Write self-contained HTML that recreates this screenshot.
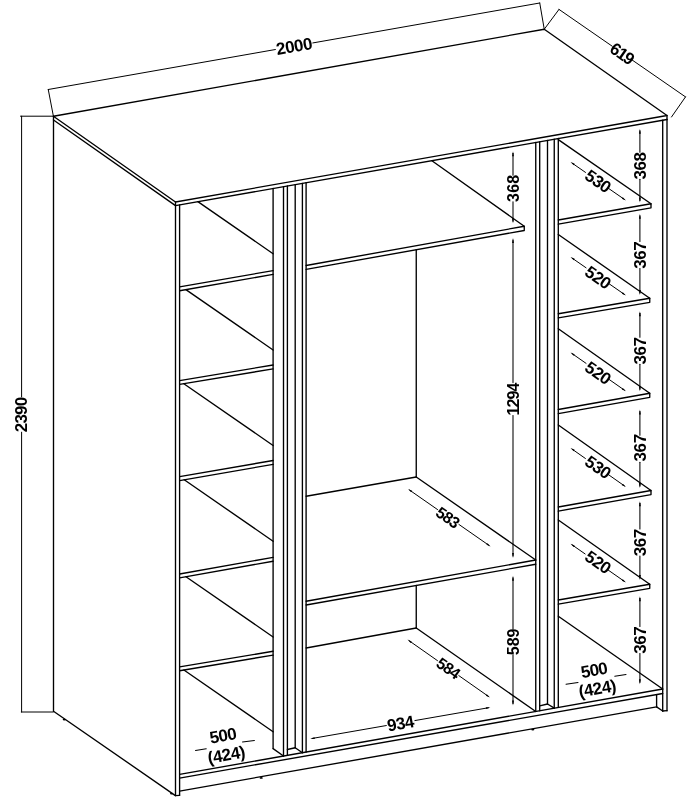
<!DOCTYPE html>
<html><head><meta charset="utf-8"><title>Wardrobe</title>
<style>
html,body{margin:0;padding:0;background:#fff;}
body{width:688px;height:803px;overflow:hidden;font-family:"Liberation Sans",sans-serif;}
svg{display:block;will-change:transform}
.m{stroke:#000;stroke-width:1.35;fill:none;stroke-linecap:round;stroke-linejoin:round}
.d{stroke:#000;stroke-width:1.0;fill:none;stroke-linecap:round}
.u{stroke:#000;stroke-width:1.0;fill:none;stroke-linecap:round}
.t{stroke:#000;stroke-width:1.05;fill:none;stroke-linecap:round}
text{font-family:"Liberation Sans",sans-serif;fill:#000;font-weight:bold;text-anchor:middle}
</style></head><body>
<svg width="688" height="803" viewBox="0 0 688 803">
<rect width="688" height="803" fill="#fff"/>
<polygon class="m" points="53.4,116.25 544.25,29.25 667.0,115.5 175.5,202.0"/>
<polyline class="m" points="53.50,120.00 175.50,205.60 667.00,119.50"/>
<line class="m" x1="175.50" y1="202.00" x2="175.50" y2="205.60"/>
<line class="m" x1="667.00" y1="115.50" x2="667.00" y2="119.50"/>
<line class="m" x1="53.50" y1="116.25" x2="53.50" y2="711.20"/>
<line class="m" x1="53.50" y1="711.20" x2="175.40" y2="795.60"/>
<line class="m" x1="175.50" y1="205.60" x2="175.50" y2="795.60"/>
<line class="m" x1="179.60" y1="204.88" x2="179.60" y2="795.30"/>
<line class="m" x1="175.50" y1="795.60" x2="179.60" y2="795.30"/>
<line class="m" x1="662.70" y1="120.25" x2="662.70" y2="711.00"/>
<line class="m" x1="667.00" y1="119.50" x2="667.00" y2="710.70"/>
<line class="m" x1="662.70" y1="711.00" x2="667.00" y2="710.70"/>
<line class="m" x1="656.60" y1="694.85" x2="656.60" y2="706.90"/>
<line class="m" x1="656.60" y1="706.90" x2="662.70" y2="711.00"/>
<line class="m" x1="179.60" y1="774.41" x2="662.70" y2="688.98"/>
<line class="m" x1="179.60" y1="778.06" x2="662.70" y2="693.48"/>
<line class="m" x1="179.60" y1="791.06" x2="656.60" y2="706.90"/>
<line class="m" x1="273.10" y1="188.50" x2="273.10" y2="748.60"/>
<line class="m" x1="283.50" y1="186.68" x2="283.50" y2="756.04"/>
<line class="m" x1="287.40" y1="186.00" x2="287.40" y2="755.35"/>
<line class="m" x1="295.20" y1="184.63" x2="295.20" y2="747.75"/>
<line class="m" x1="302.40" y1="183.37" x2="302.40" y2="752.69"/>
<line class="m" x1="306.10" y1="182.72" x2="306.10" y2="752.04"/>
<line class="m" x1="273.10" y1="748.60" x2="283.50" y2="756.04"/>
<line class="m" x1="295.20" y1="747.75" x2="302.40" y2="752.69"/>
<line class="m" x1="287.40" y1="749.50" x2="295.20" y2="747.75"/>
<line class="m" x1="535.75" y1="142.49" x2="535.75" y2="711.43"/>
<line class="m" x1="539.70" y1="141.80" x2="539.70" y2="710.73"/>
<line class="m" x1="547.50" y1="140.43" x2="547.50" y2="704.00"/>
<line class="m" x1="554.25" y1="139.25" x2="554.25" y2="708.16"/>
<line class="m" x1="558.30" y1="138.54" x2="558.30" y2="707.44"/>
<line class="m" x1="547.50" y1="704.00" x2="554.25" y2="708.16"/>
<line class="m" x1="539.70" y1="705.80" x2="547.50" y2="704.00"/>
<line class="m" x1="179.60" y1="286.90" x2="273.10" y2="270.60"/>
<line class="m" x1="179.60" y1="290.75" x2="273.10" y2="274.45"/>
<line class="m" x1="179.60" y1="380.60" x2="273.10" y2="365.00"/>
<line class="m" x1="179.60" y1="384.45" x2="273.10" y2="368.85"/>
<line class="m" x1="179.60" y1="476.70" x2="273.10" y2="460.50"/>
<line class="m" x1="179.60" y1="480.55" x2="273.10" y2="464.35"/>
<line class="m" x1="179.60" y1="574.00" x2="273.10" y2="557.40"/>
<line class="m" x1="179.60" y1="577.85" x2="273.10" y2="561.25"/>
<line class="m" x1="179.60" y1="666.90" x2="273.10" y2="651.25"/>
<line class="m" x1="179.60" y1="670.75" x2="273.10" y2="655.10"/>
<line class="m" x1="197.86" y1="201.68" x2="273.10" y2="253.75"/>
<line class="m" x1="185.89" y1="289.65" x2="273.10" y2="350.00"/>
<line class="m" x1="183.85" y1="383.74" x2="273.10" y2="445.50"/>
<line class="m" x1="184.23" y1="479.75" x2="273.10" y2="541.25"/>
<line class="m" x1="185.98" y1="576.72" x2="273.10" y2="637.00"/>
<line class="m" x1="183.91" y1="670.03" x2="273.10" y2="731.75"/>
<polyline class="m" points="558.30,220.00 651.00,203.75 651.00,207.85 558.30,224.10"/>
<polyline class="m" points="558.30,313.75 649.75,298.25 649.75,302.35 558.30,317.85"/>
<polyline class="m" points="558.30,409.50 649.75,393.25 649.75,397.35 558.30,413.60"/>
<polyline class="m" points="558.30,507.00 651.00,490.50 651.00,494.60 558.30,511.10"/>
<polyline class="m" points="558.30,600.00 649.75,584.25 649.75,588.35 558.30,604.10"/>
<line class="m" x1="558.30" y1="139.60" x2="651.00" y2="203.75"/>
<line class="m" x1="558.30" y1="234.50" x2="649.75" y2="298.25"/>
<line class="m" x1="558.30" y1="328.75" x2="649.75" y2="393.25"/>
<line class="m" x1="558.30" y1="425.00" x2="651.00" y2="490.50"/>
<line class="m" x1="558.30" y1="520.00" x2="649.75" y2="584.25"/>
<line class="m" x1="558.30" y1="616.25" x2="662.70" y2="689.00"/>
<polyline class="m" points="306.10,265.50 524.25,226.25 524.25,230.50 306.10,269.40"/>
<line class="m" x1="431.90" y1="160.68" x2="524.25" y2="226.25"/>
<line class="m" x1="416.25" y1="249.76" x2="416.25" y2="477.00"/>
<line class="m" x1="306.10" y1="496.25" x2="416.25" y2="477.00"/>
<line class="m" x1="416.25" y1="477.00" x2="535.75" y2="560.00"/>
<line class="m" x1="306.10" y1="601.25" x2="535.75" y2="560.00"/>
<line class="m" x1="306.10" y1="605.00" x2="535.75" y2="564.25"/>
<line class="m" x1="416.25" y1="585.45" x2="416.25" y2="628.00"/>
<line class="m" x1="306.10" y1="648.00" x2="416.25" y2="628.00"/>
<line class="m" x1="416.25" y1="628.00" x2="535.75" y2="711.43"/>
<ellipse cx="64.3" cy="719.6" rx="1.6" ry="0.9" fill="#000"/>
<ellipse cx="171.6" cy="793.6" rx="1.6" ry="0.9" fill="#000"/>
<ellipse cx="261.2" cy="777.9" rx="1.6" ry="0.9" fill="#000"/>
<ellipse cx="532.8" cy="729.6" rx="1.6" ry="0.9" fill="#000"/>
<line class="d" x1="48.25" y1="89.50" x2="275.40" y2="49.52"/>
<line class="d" x1="312.80" y1="42.94" x2="539.75" y2="3.00"/>
<line class="d" x1="53.40" y1="116.25" x2="48.25" y2="89.50"/>
<line class="d" x1="544.25" y1="29.25" x2="539.75" y2="3.00"/>
<line class="d" x1="559.00" y1="9.40" x2="612.20" y2="46.20"/>
<line class="d" x1="631.90" y1="59.82" x2="685.50" y2="96.90"/>
<line class="d" x1="544.25" y1="29.25" x2="559.00" y2="9.40"/>
<line class="d" x1="671.50" y1="117.00" x2="685.50" y2="96.90"/>
<line class="d" x1="21.60" y1="116.20" x2="21.60" y2="396.90"/>
<line class="d" x1="21.60" y1="432.20" x2="21.60" y2="712.00"/>
<line class="d" x1="20.50" y1="116.20" x2="53.40" y2="116.20"/>
<line class="d" x1="21.30" y1="712.00" x2="53.30" y2="712.00"/>
<line class="t" x1="513.00" y1="153.25" x2="513.00" y2="175.15"/>
<line class="t" x1="513.00" y1="201.65" x2="513.00" y2="221.25"/>
<polygon fill="#000" points="513.00,151.25 512.05,156.25 513.95,156.25"/>
<polygon fill="#000" points="513.00,223.25 513.95,218.25 512.05,218.25"/>
<line class="t" x1="513.00" y1="240.00" x2="513.00" y2="382.60"/>
<line class="t" x1="513.00" y1="415.60" x2="513.00" y2="556.00"/>
<polygon fill="#000" points="513.00,238.00 512.05,243.00 513.95,243.00"/>
<polygon fill="#000" points="513.00,558.00 513.95,553.00 512.05,553.00"/>
<line class="t" x1="513.00" y1="577.75" x2="513.00" y2="628.90"/>
<line class="t" x1="513.00" y1="654.90" x2="513.00" y2="703.50"/>
<polygon fill="#000" points="513.00,575.75 512.05,580.75 513.95,580.75"/>
<polygon fill="#000" points="513.00,705.50 513.95,700.50 512.05,700.50"/>
<line class="t" x1="639.90" y1="130.75" x2="639.90" y2="152.25"/>
<line class="t" x1="639.90" y1="179.25" x2="639.90" y2="200.50"/>
<polygon fill="#000" points="639.90,128.75 638.95,133.75 640.85,133.75"/>
<polygon fill="#000" points="639.90,202.50 640.85,197.50 638.95,197.50"/>
<line class="t" x1="639.90" y1="215.75" x2="639.90" y2="241.50"/>
<line class="t" x1="639.90" y1="268.50" x2="639.90" y2="293.00"/>
<polygon fill="#000" points="639.90,213.75 638.95,218.75 640.85,218.75"/>
<polygon fill="#000" points="639.90,295.00 640.85,290.00 638.95,290.00"/>
<line class="t" x1="639.90" y1="313.25" x2="639.90" y2="337.25"/>
<line class="t" x1="639.90" y1="364.25" x2="639.90" y2="389.25"/>
<polygon fill="#000" points="639.90,311.25 638.95,316.25 640.85,316.25"/>
<polygon fill="#000" points="639.90,391.25 640.85,386.25 638.95,386.25"/>
<line class="t" x1="639.90" y1="411.50" x2="639.90" y2="435.25"/>
<line class="t" x1="639.90" y1="462.25" x2="639.90" y2="486.00"/>
<polygon fill="#000" points="639.90,409.50 638.95,414.50 640.85,414.50"/>
<polygon fill="#000" points="639.90,488.00 640.85,483.00 638.95,483.00"/>
<line class="t" x1="639.90" y1="503.25" x2="639.90" y2="529.00"/>
<line class="t" x1="639.90" y1="556.00" x2="639.90" y2="578.00"/>
<polygon fill="#000" points="639.90,501.25 638.95,506.25 640.85,506.25"/>
<polygon fill="#000" points="639.90,580.00 640.85,575.00 638.95,575.00"/>
<line class="t" x1="639.90" y1="598.25" x2="639.90" y2="626.50"/>
<line class="t" x1="639.90" y1="653.50" x2="639.90" y2="682.25"/>
<polygon fill="#000" points="639.90,596.25 638.95,601.25 640.85,601.25"/>
<polygon fill="#000" points="639.90,684.25 640.85,679.25 638.95,679.25"/>
<line class="u" x1="572.14" y1="163.14" x2="585.49" y2="172.40"/>
<line class="u" x1="608.49" y1="188.36" x2="624.36" y2="199.36"/>
<polygon fill="#000" points="570.50,162.00 573.68,165.30 574.71,163.83"/>
<polygon fill="#000" points="626.00,200.50 622.82,197.20 621.79,198.67"/>
<line class="u" x1="572.14" y1="258.14" x2="586.07" y2="267.80"/>
<line class="u" x1="609.08" y1="283.76" x2="624.36" y2="294.36"/>
<polygon fill="#000" points="570.50,257.00 573.68,260.30 574.71,258.83"/>
<polygon fill="#000" points="626.00,295.50 622.82,292.20 621.79,293.67"/>
<line class="u" x1="572.14" y1="353.64" x2="586.04" y2="363.35"/>
<line class="u" x1="609.00" y1="379.38" x2="624.36" y2="390.11"/>
<polygon fill="#000" points="570.50,352.50 573.67,355.81 574.70,354.34"/>
<polygon fill="#000" points="626.00,391.25 622.83,387.94 621.80,389.41"/>
<line class="u" x1="572.14" y1="449.15" x2="585.42" y2="458.48"/>
<line class="u" x1="608.33" y1="474.58" x2="624.36" y2="485.85"/>
<polygon fill="#000" points="570.50,448.00 573.66,451.32 574.70,449.85"/>
<polygon fill="#000" points="626.00,487.00 622.84,483.68 621.80,485.15"/>
<line class="u" x1="572.14" y1="544.89" x2="585.10" y2="553.94"/>
<line class="u" x1="608.06" y1="569.97" x2="624.36" y2="581.36"/>
<polygon fill="#000" points="570.50,543.75 573.67,547.06 574.70,545.59"/>
<polygon fill="#000" points="626.00,582.50 622.83,579.19 621.80,580.66"/>
<line class="u" x1="409.64" y1="490.14" x2="437.57" y2="509.59"/>
<line class="u" x1="458.91" y1="524.44" x2="488.96" y2="545.36"/>
<polygon fill="#000" points="408.00,489.00 411.18,492.31 412.21,490.83"/>
<polygon fill="#000" points="490.60,546.50 487.42,543.19 486.39,544.67"/>
<line class="u" x1="409.14" y1="640.75" x2="437.52" y2="660.67"/>
<line class="u" x1="458.80" y1="675.60" x2="488.36" y2="696.35"/>
<polygon fill="#000" points="407.50,639.60 410.67,642.92 411.70,641.45"/>
<polygon fill="#000" points="490.00,697.50 486.83,694.18 485.80,695.65"/>
<line class="u" x1="312.17" y1="738.46" x2="386.31" y2="725.54"/>
<line class="u" x1="414.88" y1="720.56" x2="488.43" y2="707.74"/>
<polygon fill="#000" points="310.20,738.80 314.79,738.91 314.48,737.14"/>
<polygon fill="#000" points="490.40,707.40 485.81,707.29 486.12,709.06"/>
<line class="t" x1="195.50" y1="750.50" x2="206.25" y2="748.75"/>
<line class="t" x1="242.50" y1="742.00" x2="254.40" y2="740.50"/>
<line class="t" x1="566.00" y1="684.25" x2="578.00" y2="682.50"/>
<line class="t" x1="614.75" y1="676.25" x2="626.00" y2="674.50"/>
<text transform="translate(294.2,45.9) rotate(-10)" x="0" y="6.09" font-size="17" textLength="36.5" lengthAdjust="spacing">2000</text>
<text transform="translate(622.5,53.6) rotate(35)" x="0" y="6.09" font-size="17" textLength="25.5" lengthAdjust="spacing">619</text>
<text transform="translate(21.4,414.5) rotate(-90)" x="0" y="6.09" font-size="17" textLength="35.5" lengthAdjust="spacing">2390</text>
<text transform="translate(512.8,188.4) rotate(-90)" x="0" y="5.73" font-size="16" textLength="27" lengthAdjust="spacing">368</text>
<text transform="translate(512.8,399.1) rotate(-90)" x="0" y="5.73" font-size="16" textLength="33" lengthAdjust="spacing">1294</text>
<text transform="translate(512.8,641.9) rotate(-90)" x="0" y="5.73" font-size="16" textLength="26.5" lengthAdjust="spacing">589</text>
<text transform="translate(639.6,165.75) rotate(-90)" x="0" y="6.09" font-size="17" textLength="27.6" lengthAdjust="spacing">368</text>
<text transform="translate(639.6,255.0) rotate(-90)" x="0" y="6.09" font-size="17" textLength="27.6" lengthAdjust="spacing">367</text>
<text transform="translate(639.6,350.75) rotate(-90)" x="0" y="6.09" font-size="17" textLength="27.6" lengthAdjust="spacing">367</text>
<text transform="translate(639.6,447.7) rotate(-90)" x="0" y="6.09" font-size="17" textLength="27.6" lengthAdjust="spacing">367</text>
<text transform="translate(639.6,542.5) rotate(-90)" x="0" y="6.09" font-size="17" textLength="27.6" lengthAdjust="spacing">367</text>
<text transform="translate(639.6,640.0) rotate(-90)" x="0" y="6.09" font-size="17" textLength="27.6" lengthAdjust="spacing">367</text>
<text transform="translate(598.25,181.1) rotate(35)" x="0" y="6.09" font-size="17" textLength="27.6" lengthAdjust="spacing">530</text>
<text transform="translate(598.25,277.35) rotate(35)" x="0" y="6.09" font-size="17" textLength="27.6" lengthAdjust="spacing">520</text>
<text transform="translate(598.25,372.85) rotate(35)" x="0" y="6.09" font-size="17" textLength="27.6" lengthAdjust="spacing">520</text>
<text transform="translate(598.25,467.1) rotate(35)" x="0" y="6.09" font-size="17" textLength="27.6" lengthAdjust="spacing">530</text>
<text transform="translate(598.25,562.1) rotate(35)" x="0" y="6.09" font-size="17" textLength="27.6" lengthAdjust="spacing">520</text>
<text transform="translate(448.1,517.4) rotate(35)" x="0" y="5.73" font-size="16" textLength="25" lengthAdjust="spacing">583</text>
<text transform="translate(448.6,668.2) rotate(35)" x="0" y="5.73" font-size="16" textLength="25" lengthAdjust="spacing">584</text>
<text transform="translate(400.6,723.1) rotate(-10)" x="0" y="6.09" font-size="17" textLength="27" lengthAdjust="spacing">934</text>
<text transform="translate(223.1,735.3) rotate(-10)" x="0" y="6.09" font-size="17" textLength="27" lengthAdjust="spacing">500</text>
<text transform="translate(226.4,754.5) rotate(-10)" x="0" y="6.09" font-size="17" textLength="38" lengthAdjust="spacing">(424)</text>
<text transform="translate(594.3,669.8) rotate(-10)" x="0" y="6.09" font-size="17" textLength="27" lengthAdjust="spacing">500</text>
<text transform="translate(597.4,688.2) rotate(-10)" x="0" y="6.09" font-size="17" textLength="38" lengthAdjust="spacing">(424)</text>
</svg>
</body></html>
